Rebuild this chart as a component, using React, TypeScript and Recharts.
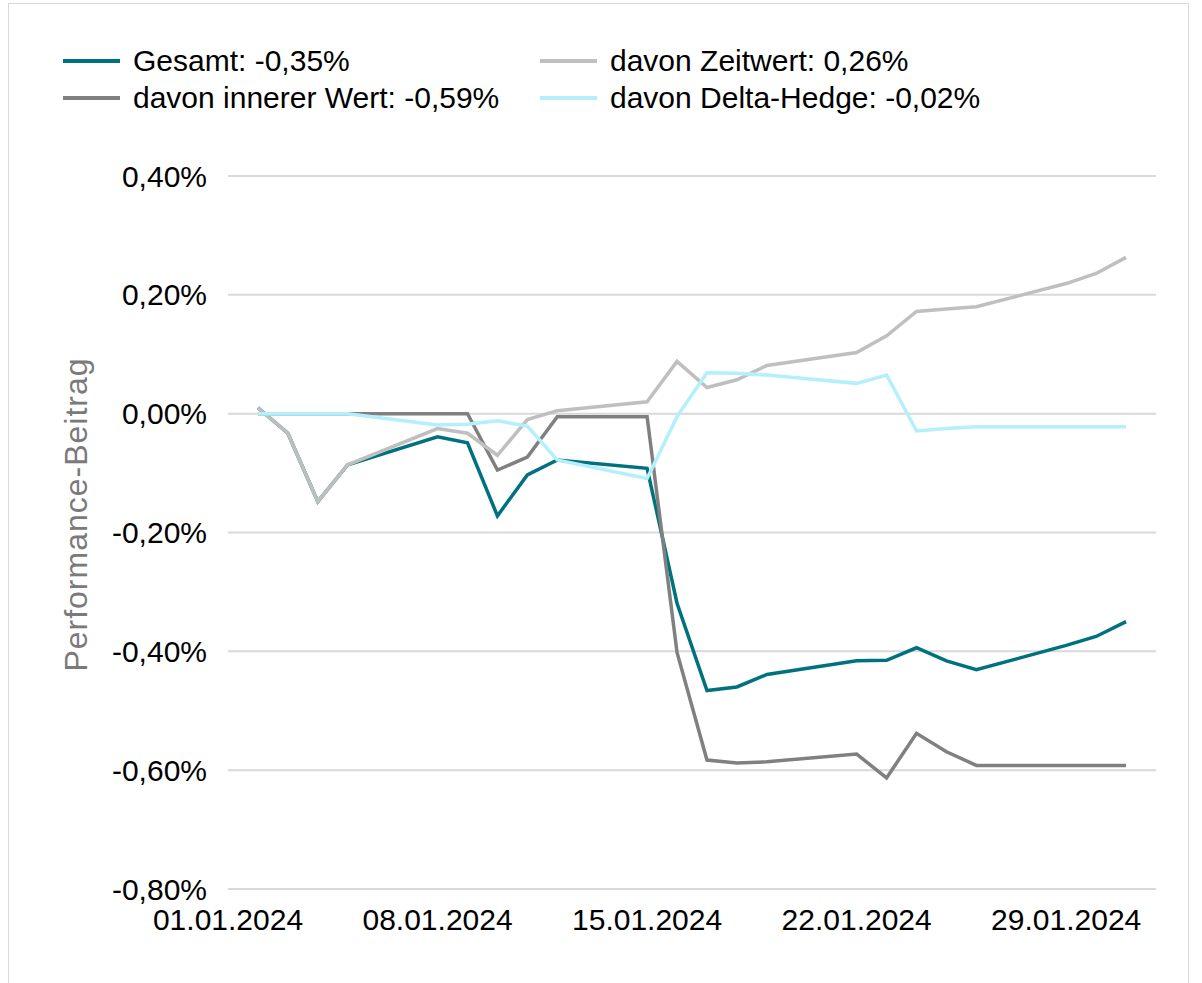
import React from "react";
import { LineChart, Line, XAxis, YAxis, CartesianGrid, Legend } from "recharts";

// trading days, January 2024
const dates = [
  "02.01.2024", "03.01.2024", "04.01.2024", "05.01.2024",
  "08.01.2024", "09.01.2024", "10.01.2024", "11.01.2024", "12.01.2024",
  "15.01.2024", "16.01.2024", "17.01.2024", "18.01.2024", "19.01.2024",
  "22.01.2024", "23.01.2024", "24.01.2024", "25.01.2024", "26.01.2024",
  "29.01.2024", "30.01.2024", "31.01.2024",
];

// values in %
const gesamt = [
  0.01, -0.033, -0.148, -0.086,
  -0.039, -0.049, -0.172, -0.103, -0.078,
  -0.092, -0.319, -0.466, -0.46, -0.439,
  -0.416, -0.415, -0.394, -0.416, -0.431,
  -0.39, -0.375, -0.35,
];
const innererWert = [
  0, 0, 0, 0,
  0, 0, -0.095, -0.073, -0.005,
  -0.005, -0.402, -0.583, -0.588, -0.586,
  -0.573, -0.613, -0.538, -0.569, -0.592,
  -0.592, -0.592, -0.592,
];
const zeitwert = [
  0.01, -0.033, -0.148, -0.086,
  -0.025, -0.033, -0.07, -0.01, 0.005,
  0.02, 0.088, 0.044, 0.057, 0.081,
  0.103, 0.131, 0.172, 0.176, 0.18,
  0.219, 0.236, 0.263,
];
const deltaHedge = [
  0, 0, 0, 0,
  -0.019, -0.018, -0.012, -0.021, -0.078,
  -0.109, -0.005, 0.069, 0.068, 0.065,
  0.051, 0.065, -0.029, -0.025, -0.022,
  -0.022, -0.022, -0.022,
];

const xTickLabels = ["01.01.2024", "08.01.2024", "15.01.2024", "22.01.2024", "29.01.2024"];
const yTicks = [0.4, 0.2, 0, -0.2, -0.4, -0.6, -0.8];

const series = [
  { key: "gesamt", name: "Gesamt: -0,35%", color: "#00717F" },
  { key: "innererWert", name: "davon innerer Wert: -0,59%", color: "#808080" },
  { key: "zeitwert", name: "davon Zeitwert: 0,26%", color: "#BFBFBF" },
  { key: "deltaHedge", name: "davon Delta-Hedge: -0,02%", color: "#B3F0FB" },
];

// day offset from 01.01.2024
const dayOf = (d: string) => Number(d.slice(0, 2)) - 1;

const data = dates.map((d, i) => ({
  day: dayOf(d),
  gesamt: gesamt[i],
  innererWert: innererWert[i],
  zeitwert: zeitwert[i],
  deltaHedge: deltaHedge[i],
}));

const xTicks = xTickLabels.map(dayOf);
const fmtDay = (v: number) => xTickLabels[xTicks.indexOf(v)] ?? "";
const fmtPct = (v: number) => v.toFixed(2).replace(".", ",") + "%";

const FONT = "'Liberation Sans', Arial, sans-serif";
const FS = 30;

function LegendBox() {
  return (
    <div
      style={{
        display: "grid",
        gridTemplateColumns: "477px auto",
        gridTemplateRows: "37px 37px",
        gridAutoFlow: "column",
        fontFamily: FONT,
        fontSize: FS,
        color: "#000",
      }}
    >
      {series.map((s) => (
        <div key={s.key} style={{ display: "flex", alignItems: "center", whiteSpace: "nowrap" }}>
          <span style={{ display: "inline-block", width: 57, height: 4, background: s.color, marginRight: 13 }} />
          <span>{s.name}</span>
        </div>
      ))}
    </div>
  );
}

function AxisTitle(props: any) {
  const vb = props.viewBox || { y: 0, height: 0 };
  const cy = vb.y + vb.height / 2 - 18;
  return (
    <text
      x={76}
      y={cy}
      transform={`rotate(-90, 76, ${cy})`}
      textAnchor="middle"
      dominantBaseline="central"
      fill="#7A7A7A"
      fontSize={32}
      letterSpacing={1}
      fontFamily={FONT}
    >
      Performance-Beitrag
    </text>
  );
}

export default function App() {
  return (
    <div
      style={{
        position: "absolute",
        left: 0,
        top: 0,
        width: 1202,
        height: 983,
        overflow: "hidden",
        background: "#fff",
      }}
    >
      <div
        style={{
          position: "absolute",
          left: 8,
          top: 3,
          width: 1179,
          height: 1000,
          border: "1px solid #D9D9D9",
        }}
      />
      <LineChart
        width={1202}
        height={983}
        data={data}
        margin={{ top: 176, right: 46, bottom: 34, left: 0 }}
        style={{ position: "absolute", left: 0, top: 0 }}
      >
        <CartesianGrid horizontal vertical={false} stroke="#D9D9D9" strokeWidth={2} />
        <XAxis
          dataKey="day"
          type="number"
          domain={[0, 31]}
          ticks={xTicks}
          tickFormatter={fmtDay}
          axisLine={false}
          tickLine={false}
          tickMargin={14}
          height={60}
          interval={0}
          tick={{ fill: "#000", fontSize: FS, fontFamily: FONT }}
        />
        <YAxis
          type="number"
          domain={[-0.8, 0.4]}
          ticks={yTicks}
          tickFormatter={fmtPct}
          axisLine={false}
          tickLine={false}
          tickMargin={15}
          width={228}
          interval={0}
          tick={{ fill: "#000", fontSize: FS, fontFamily: FONT }}
          label={<AxisTitle />}
        />
        <Legend
          layout="horizontal"
          verticalAlign="middle"
          align="center"
          wrapperStyle={{ top: 42, left: 63, width: 1000 }}
          content={() => <LegendBox />}
        />
        {series.map((s) => (
          <Line
            key={s.key}
            type="linear"
            dataKey={s.key}
            name={s.name}
            stroke={s.color}
            strokeWidth={3.5}
            dot={false}
            activeDot={false}
            isAnimationActive={false}
          />
        ))}
      </LineChart>
    </div>
  );
}
